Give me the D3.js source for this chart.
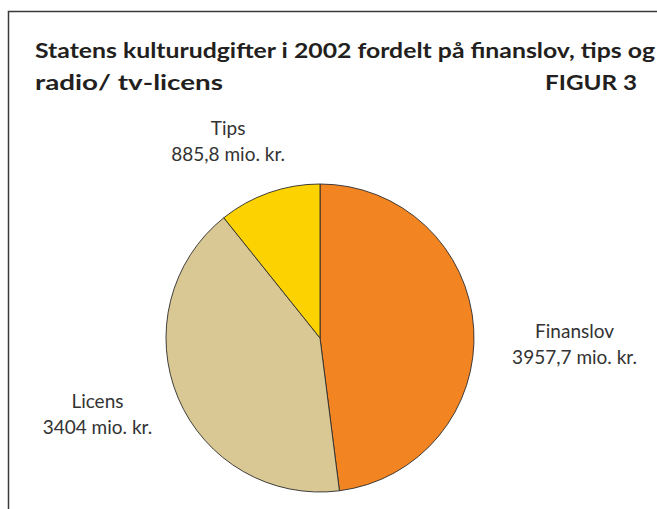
<!DOCTYPE html>
<html>
<head>
<meta charset="utf-8">
<script src="https://cdn.jsdelivr.net/npm/d3@7"></script>
<style>
  html, body { margin: 0; padding: 0; background: #ffffff; }
  svg { display: block; font-family: Lato, "Open Sans", sans-serif; }
</style>
</head>
<body>
<div id="chart"></div>
<script>
// Data
const categories = ['Finanslov', 'Licens', 'Tips'];
const values = [3957.7, 3404, 885.8];
const valueLabels = ['3957,7 mio. kr.', '3404 mio. kr.', '885,8 mio. kr.'];
const colors = ['#f38422', '#d9c794', '#fcd200'];

const titleLines = ['Statens kulturudgifter i 2002 fordelt på finanslov, tips og', 'radio/ tv-licens'];
const figureLabel = 'FIGUR 3';

const width = 657;
const height = 509;

const svg = d3.select('#chart')
  .append('svg')
  .attr('width', width)
  .attr('height', height);

// Frame (top and left only)
svg.append('path')
  .attr('d', `M8.5,${height} L8.5,11.5 L${width},11.5`)
  .attr('fill', 'none')
  .attr('stroke', '#3a3a3a')
  .attr('stroke-width', 1.5);

// Title
const titleStyle = sel => sel
  .style('font-size', '21px')
  .style('font-weight', 'bold')
  .attr('fill', '#231f20')
  .attr('lengthAdjust', 'spacingAndGlyphs');

svg.append('text')
  .attr('x', 35)
  .attr('y', 58)
  .call(titleStyle)
  .attr('textLength', 620)
  .text(titleLines[0]);

svg.append('text')
  .attr('x', 35)
  .attr('y', 90)
  .call(titleStyle)
  .attr('textLength', 188)
  .text(titleLines[1]);

svg.append('text')
  .attr('x', 545)
  .attr('y', 90)
  .call(titleStyle)
  .attr('textLength', 92)
  .text(figureLabel);

// Pie
const cx = 320, cy = 338, radius = 154;
const pieData = categories.map((c, i) => ({ name: c, value: values[i], label: valueLabels[i], color: colors[i] }));

const pie = d3.pie()
  .sort(null)
  .value(d => d.value);

const arc = d3.arc()
  .innerRadius(0)
  .outerRadius(radius);

const g = svg.append('g')
  .attr('transform', `translate(${cx},${cy})`);

g.selectAll('.slice')
  .data(pie(pieData))
  .enter()
  .append('path')
  .attr('class', 'slice')
  .attr('d', arc)
  .attr('fill', d => d.data.color)
  .attr('stroke', '#2b2b2b')
  .attr('stroke-width', 0.9);

// Labels, placed from the slice centroid on an outer ring, then nudged
const labelArc = d3.arc().innerRadius(220).outerRadius(220);
const labelOffsets = { Finanslov: [35, 14], Licens: [-20, -16], Tips: [-19, 5] };

const labels = svg.append('g')
  .attr('transform', `translate(${cx},${cy})`)
  .selectAll('.label')
  .data(pie(pieData))
  .enter()
  .append('text')
  .attr('class', 'label')
  .attr('text-anchor', 'middle')
  .attr('fill', '#333333')
  .style('font-size', '19px')
  .attr('transform', d => {
    const [x, y] = labelArc.centroid(d);
    const off = labelOffsets[d.data.name];
    return `translate(${x + off[0]},${y + off[1]})`;
  });

labels.append('tspan')
  .attr('x', 0)
  .attr('dy', 0)
  .text(d => d.data.name);

labels.append('tspan')
  .attr('x', 0)
  .attr('dy', 26)
  .text(d => d.data.label);
</script>
</body>
</html>
